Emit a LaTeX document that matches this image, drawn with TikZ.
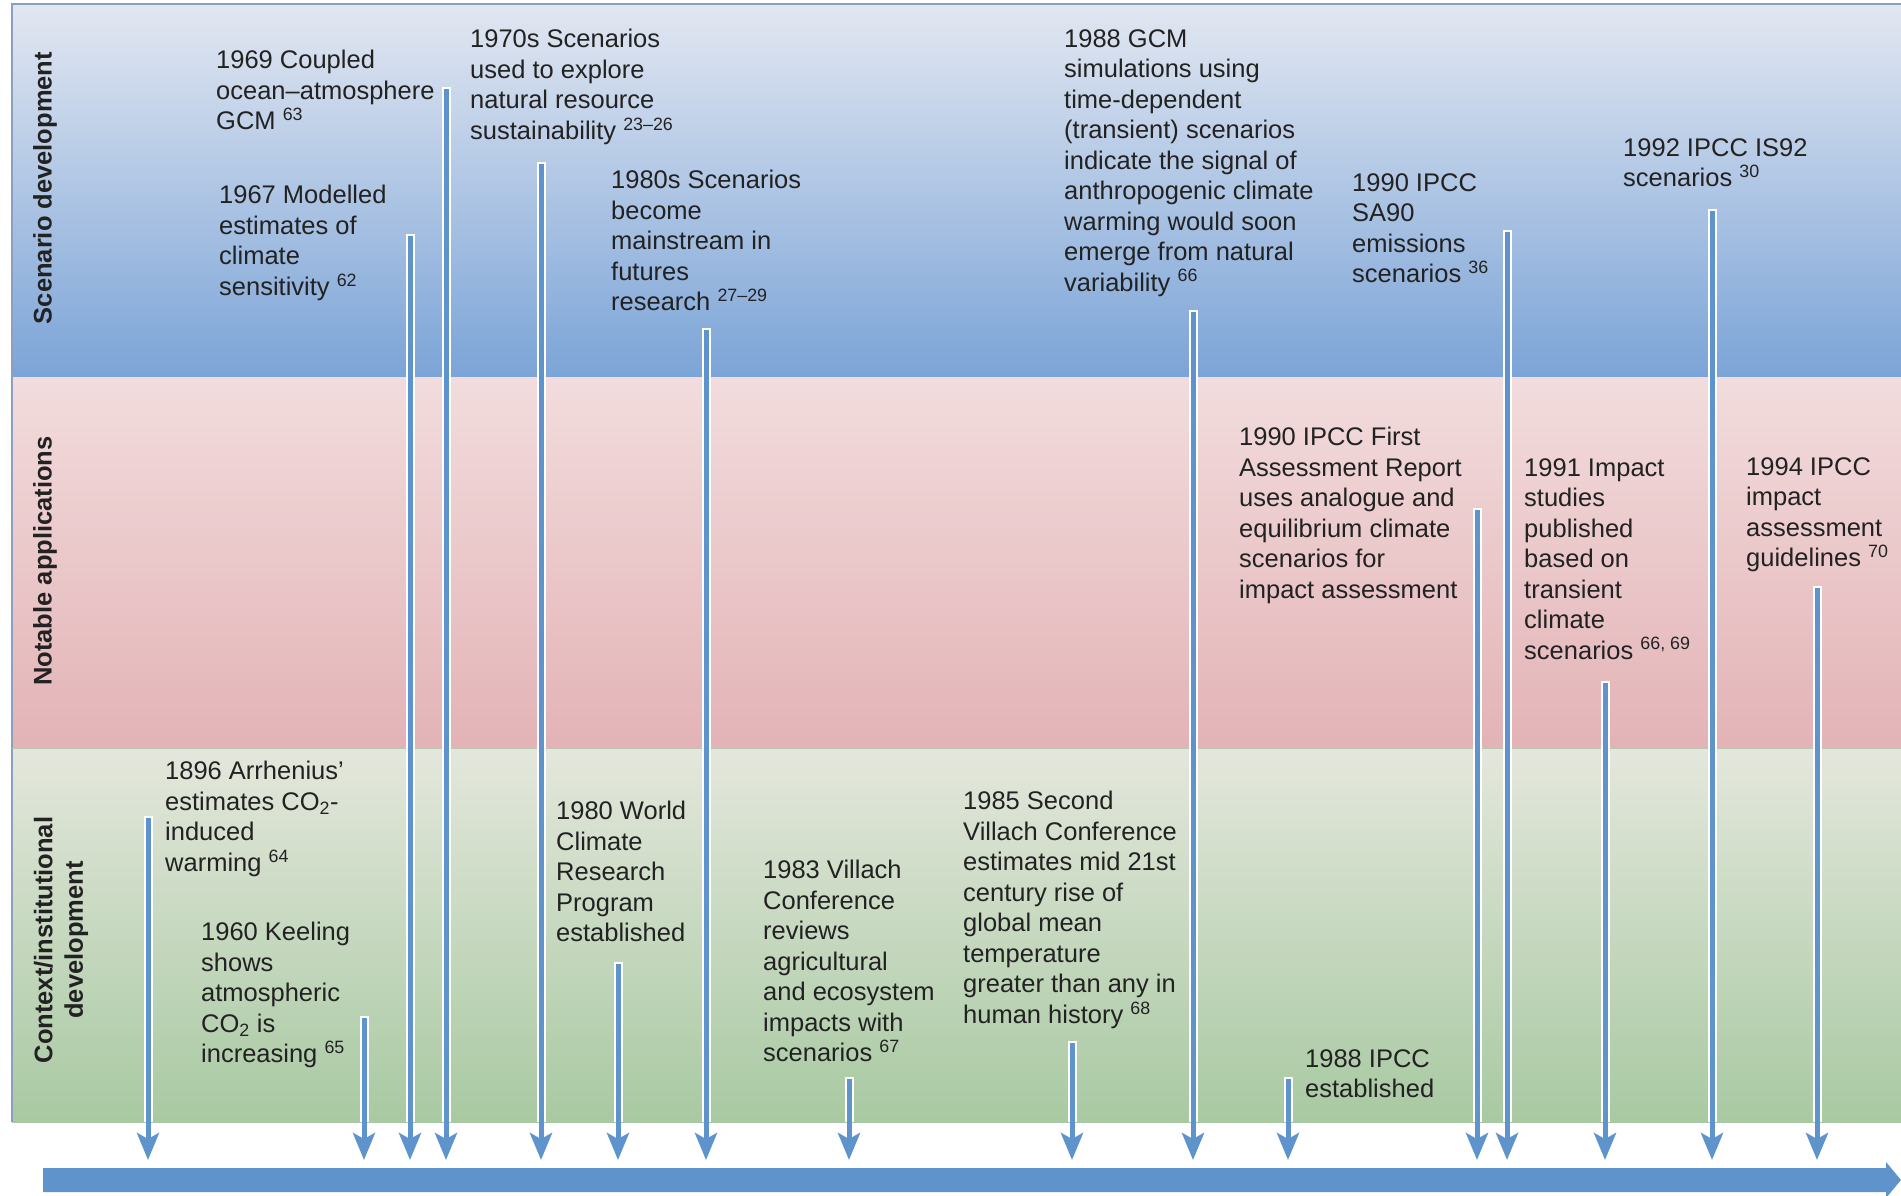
\documentclass[tikz,border=0pt]{standalone}
\usepackage{fontspec}
\setmainfont{Liberation Sans}
\usetikzlibrary{arrows.meta}
\definecolor{txt}{HTML}{222222}
\definecolor{axis}{HTML}{5E93CB}
\definecolor{blueTop}{HTML}{E2E7F1}
\definecolor{blueBot}{HTML}{7BA4D7}
\definecolor{pinkTop}{HTML}{F2DCDD}
\definecolor{pinkBot}{HTML}{E3B3B6}
\definecolor{greenTop}{HTML}{E4E7DC}
\definecolor{greenBot}{HTML}{A8C9A2}
\definecolor{frame}{HTML}{8C9FBE}
\begin{document}
\begin{tikzpicture}[x=1pt,y=-1pt,
  evt/.style={anchor=north west, align=left, inner sep=0pt,
    font=\fontsize{25.5}{30.5}\selectfont, text=txt},
  lane/.style={rotate=90, align=center, inner sep=0pt,
    font=\bfseries\fontsize{25.5}{30.5}\selectfont, text=txt},
  halo/.style={white, line width=9pt},
  tick/.style={draw=axis, line width=5pt,
    -{Stealth[length=27pt,width=22pt,inset=6pt]}}]
\useasboundingbox (0,0) rectangle (1901,1196);

% three horizontal bands
\shade[top color=blueTop, bottom color=blueBot] (12,5) rectangle (1901,377);
\shade[top color=pinkTop, bottom color=pinkBot] (12,377) rectangle (1901,748);
\shade[top color=greenTop, bottom color=greenBot] (12,748) rectangle (1901,1122);
\draw[frame, line width=1.5pt] (12,1122) -- (12,4) -- (1901,4);
\draw[greenBot!80!black!60, line width=1pt] (12,748) -- (1901,748);

% band titles
\node[lane] (lsd) at (45,188) {Scenario development};
\node[lane] (lna) at (45,561) {Notable applications};
\node[lane] (lci) at (61,940) {Context/institutional\\development};

% time axis
\coordinate (ax0) at (43,1180);
\coordinate (ax1) at (1901,1180);
\fill[axis] (43,1168) -- (1886,1168) -- (1886,1162) -- (1901,1180)
  -- (1886,1198) -- (1886,1192) -- (43,1192) -- cycle;

% event arrows down to the axis
\foreach \n/\x/\y in {a/148/818, b/364/1018, c/410/236, d/446/89,
    e/541/164, f/618/964, g/706/330, h/849/1079, i/1072/1043,
    j/1193/312, k/1288/1079, l/1477/510, m/1507/232, n/1605/683,
    o/1712/211, p/1817/588} {
  \coordinate (s\n) at (\x,\y);
  \coordinate (t\n) at (\x,1160);
  \draw[halo] (\x,\y-2) -- (\x,1122);
  \draw[tick] (s\n) -- (t\n);
}

% scenario development
\node[evt] (e1969) at (216,50) {1969 Coupled\\ocean\textendash atmosphere\\GCM \textsuperscript{63}};
\node[evt] (e1967) at (219,185) {1967 Modelled\\estimates of\\climate\\sensitivity \textsuperscript{62}};
\node[evt] (e1970s) at (470,29) {1970s Scenarios\\used to explore\\natural resource\\sustainability \textsuperscript{23\textendash 26}};
\node[evt] (e1980s) at (611,170) {1980s Scenarios\\become\\mainstream in\\futures\\research \textsuperscript{27\textendash 29}};
\node[evt] (e1988g) at (1064,29) {1988 GCM\\simulations using\\time-dependent\\(transient) scenarios\\indicate the signal of\\anthropogenic climate\\warming would soon\\emerge from natural\\variability \textsuperscript{66}};
\node[evt] (e1990s) at (1352,173) {1990 IPCC\\SA90\\emissions\\scenarios \textsuperscript{36}};
\node[evt] (e1992) at (1623,138) {1992 IPCC IS92\\scenarios \textsuperscript{30}};

% notable applications
\node[evt] (e1990f) at (1239,427) {1990 IPCC First\\Assessment Report\\uses analogue and\\equilibrium climate\\scenarios for\\impact assessment};
\node[evt] (e1991) at (1524,458) {1991 Impact\\studies\\published\\based on\\transient\\climate\\scenarios \textsuperscript{66, 69}};
\node[evt] (e1994) at (1746,457) {1994 IPCC\\impact\\assessment\\guidelines \textsuperscript{70}};

% context / institutional development
\node[evt] (e1896) at (165,761) {1896 Arrhenius'\\estimates CO\textsubscript{2}-\\induced\\warming \textsuperscript{64}};
\node[evt] (e1960) at (201,922) {1960 Keeling\\shows\\atmospheric\\CO\textsubscript{2} is\\increasing \textsuperscript{65}};
\node[evt] (e1980w) at (556,801) {1980 World\\Climate\\Research\\Program\\established};
\node[evt] (e1983) at (763,860) {1983 Villach\\Conference\\reviews\\agricultural\\and ecosystem\\impacts with\\scenarios \textsuperscript{67}};
\node[evt] (e1985) at (963,791) {1985 Second\\Villach Conference\\estimates mid 21st\\century rise of\\global mean\\temperature\\greater than any in\\human history \textsuperscript{68}};
\node[evt] (e1988i) at (1305,1049) {1988 IPCC\\established};
\end{tikzpicture}
\end{document}
